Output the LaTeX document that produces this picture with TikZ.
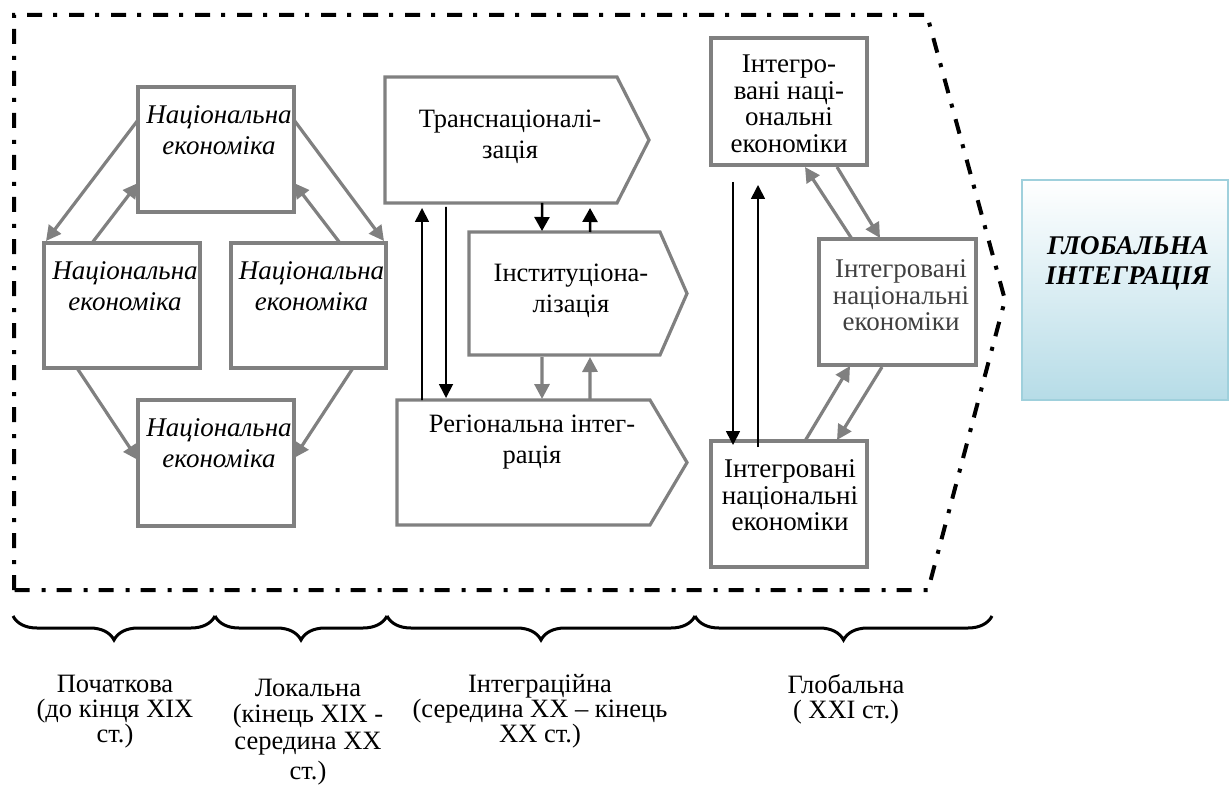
\documentclass[tikz,border=0pt]{standalone}
\usepackage{fontspec}
\setmainfont{Liberation Serif}
\newfontfamily\tnr{Liberation Serif}
\usetikzlibrary{arrows.meta,calc,shapes.symbols,decorations.pathreplacing}
\definecolor{boxgray}{HTML}{808080}
\definecolor{gbord}{HTML}{9FD0DC}
\definecolor{gfill}{HTML}{B6DCE7}
\definecolor{midtext}{HTML}{404040}
\begin{document}
\begin{tikzpicture}[x=1pt,y=-1pt,
  box/.style={draw=boxgray, line width=3.2pt, rectangle, inner sep=0pt, outer sep=0pt},
  sig/.style={draw=boxgray, line width=3.2pt, signal, signal to=east, signal from=nowhere, inner sep=0pt, outer sep=0pt},
  txt/.style={inner sep=0pt, outer sep=0pt, align=center, anchor=north},
  natfont/.style={font=\tnr\fontsize{27}{31}\selectfont\itshape},
  midfont/.style={font=\tnr\fontsize{26.5}{31}\selectfont},
  rfont/.style={font=\tnr\fontsize{27}{26.5}\selectfont},
  botfont/.style={font=\tnr\fontsize{26.5}{25}\selectfont},
  garr/.style={draw=boxgray, line width=3.2pt, -{Triangle[width=15pt,length=15pt]}},
  barr/.style={draw=black, line width=1.7pt, -{Triangle[width=14pt,length=14pt]}},
  bthick/.style={draw=black, line width=2.5pt, -{Triangle[width=15pt,length=14pt]}},
  frame/.style={draw=black, line width=4pt, dash pattern=on 15pt off 11pt on 4pt off 12pt},
  bracestyle/.style={draw=black, line width=3pt, decorate, decoration={brace, mirror, amplitude=24pt}}
]
\useasboundingbox (0,0) rectangle (1230,794);

% outer dash-dot frame
\draw[frame] (14,590) -- (14,15) -- (927,15) -- (1005,300) -- (928,590) -- cycle;

% left cluster
\node[box, minimum width=156pt, minimum height=125pt] (n1) at (216,149.5) {};
\node[box, minimum width=156pt, minimum height=125pt] (n2) at (122,305.5) {};
\node[box, minimum width=155pt, minimum height=125pt] (n3) at (308.5,305.5) {};
\node[box, minimum width=156pt, minimum height=126pt] (n4) at (216,463) {};
\node[txt, natfont] (t1) at ($(n1.north)+(3,19)$) {Національна\\економіка};
\node[txt, natfont] (t2) at ($(n2.north)+(3,19)$) {Національна\\економіка};
\node[txt, natfont] (t3) at ($(n3.north)+(3,19)$) {Національна\\економіка};
\node[txt, natfont] (t4) at ($(n4.north)+(3,19)$) {Національна\\економіка};

\draw[garr] ($(n1.north west)+(0,33)$) -- ($(n2.north west)+(2,-2)$);
\draw[garr] ($(n2.north west)+(48,0)$) -- ($(n1.north west)+(0,96)$);
\draw[garr] ($(n1.north east)+(0,33)$) -- ($(n3.north east)+(-2,-2)$);
\draw[garr] ($(n3.north west)+(109,0)$) -- ($(n1.north east)+(0,96)$);
\draw[garr] ($(n2.south west)+(33,0)$) -- ($(n4.north west)+(0,60)$);
\draw[garr] ($(n3.south west)+(122,0)$) -- ($(n4.north east)+(0,58)$);

% middle column
\node[sig, minimum width=264pt, minimum height=126pt, signal pointer angle=126.1] (tr) at (501,140) {};
\node[sig, minimum width=218pt, minimum height=123pt, signal pointer angle=132.6] (in) at (564.5,293.5) {};
\node[sig, minimum width=290pt, minimum height=125pt, signal pointer angle=118.7] (rg) at (523.5,462.5) {};
\node[txt, midfont] (ttr) at ($(tr.west)+(125,-30)$) {Транснаціоналі-\\зація};
\node[txt, midfont] (tin) at ($(in.west)+(102,-29.5)$) {Інституціона-\\лізація};
\node[txt, midfont] (trg) at ($(rg.west)+(135,-47.5)$) {Регіональна інтег-\\рація};

\draw[barr] ($(rg.west)+(25,-62.5)$) -- ($(tr.west)+(37,68)$);
\draw[barr] ($(tr.west)+(61,67)$) -- ($(rg.west)+(49,-64.5)$);
\draw[bthick] ($(tr.west)+(157,63)$) -- ($(in.west)+(73,-62.5)$);
\draw[bthick] ($(in.west)+(121,-61.5)$) -- ($(tr.west)+(205,68)$);
\draw[garr] ($(in.west)+(73,63.5)$) -- ($(rg.west)+(145,-63.5)$);
\draw[garr] ($(rg.west)+(193,-62.5)$) -- ($(in.west)+(121,63.5)$);

% right column
\node[box, minimum width=156pt, minimum height=127pt] (r1) at (789,101.5) {};
\node[box, minimum width=157pt, minimum height=126pt] (r2) at (897.5,302) {};
\node[box, minimum width=156pt, minimum height=126pt] (r3) at (789,504) {};
\node[txt, rfont] (tr1) at ($(r1.north)+(0,17)$) {Інтегро-\\вані наці-\\ональні\\економіки};
\node[txt, rfont, text=midtext] (tr2) at ($(r2.north)+(3.5,21)$) {Інтегровані\\національні\\економіки};
\node[txt, rfont] (tr3) at ($(r3.north)+(1,19)$) {Інтегровані\\національні\\економіки};

\draw[barr] ($(r1.south west)+(22,17)$) -- ($(r3.north west)+(22,4)$);
\draw[barr] ($(r3.north west)+(47,6)$) -- ($(r1.south west)+(47,20)$);
\draw[garr] ($(r2.north west)+(33,0)$) -- ($(r1.south west)+(94,2)$);
\draw[garr] ($(r1.south west)+(126,2)$) -- ($(r2.north west)+(61,-1)$);
\draw[garr] ($(r3.north west)+(94,0)$) -- ($(r2.south west)+(31,1)$);
\draw[garr] ($(r2.south west)+(63,2)$) -- ($(r3.north west)+(126,-1)$);

% global integration box
\node[draw=gbord, line width=2.5pt, top color=white, bottom color=gfill, minimum width=206pt, minimum height=220pt, inner sep=0pt, outer sep=0pt] (g) at (1125,290) {};
\node[txt, font=\tnr\fontsize{27}{30}\selectfont\bfseries\itshape] (tg) at ($(g.north)+(3,57)$) {ГЛОБАЛЬНА\\ІНТЕГРАЦІЯ};

% braces
\coordinate (b0) at (13,616);
\coordinate (b1) at (215,616);
\coordinate (b2) at (387,616);
\coordinate (b3) at (695,616);
\coordinate (b4) at (992,616);
\draw[bracestyle] (b0) -- (b1);
\draw[bracestyle] (b1) -- (b2);
\draw[bracestyle] (b2) -- (b3);
\draw[bracestyle] (b3) -- (b4);

% period labels
\node[txt, botfont] (p1) at (115,675) {Початкова\\(до кінця XIX\\ст.)};
\node[txt, botfont] (p2) at (308,679) {Локальна\\[1pt](кінець XIX -\\[2pt]середина XX\\[5pt]ст.)};
\node[txt, botfont] (p3) at (540,674) {Інтеграційна\\(середина XX – кінець\\XX ст.)};
\node[txt, botfont] (p4) at (846,675) {Глобальна\\( XXI ст.)};
\end{tikzpicture}
\end{document}
